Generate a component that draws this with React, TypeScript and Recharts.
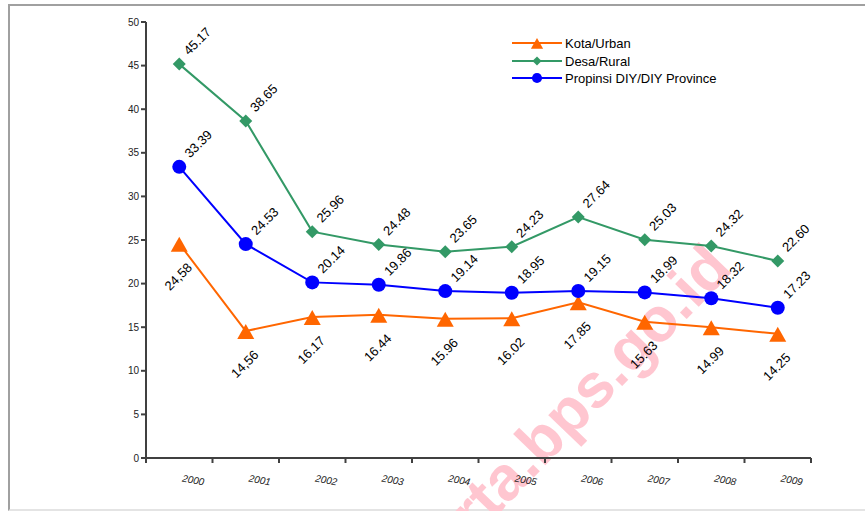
import React from "react";
import { LineChart, Line, XAxis, YAxis, LabelList } from "recharts";

const years = ["2000", "2001", "2002", "2003", "2004", "2005", "2006", "2007", "2008", "2009"];
const kota = [24.58, 14.56, 16.17, 16.44, 15.96, 16.02, 17.85, 15.63, 14.99, 14.25];
const desa = [45.17, 38.65, 25.96, 24.48, 23.65, 24.23, 27.64, 25.03, 24.32, 22.6];
const propinsi = [33.39, 24.53, 20.14, 19.86, 19.14, 18.95, 19.15, 18.99, 18.32, 17.23];
const kotaLabels = ["24,58", "14,56", "16.17", "16.44", "15.96", "16.02", "17.85", "15.63", "14.99", "14.25"];
const desaLabels = ["45.17", "38.65", "25.96", "24.48", "23.65", "24.23", "27.64", "25.03", "24.32", "22.60"];
const propinsiLabels = ["33.39", "24.53", "20.14", "19.86", "19.14", "18.95", "19.15", "18.99", "18.32", "17.23"];
const yTicks = [0, 5, 10, 15, 20, 25, 30, 35, 40, 45, 50];

const seriesNames = ["Kota/Urban", "Desa/Rural", "Propinsi DIY/DIY Province"];
const ORANGE = "#FF6600";
const GREEN = "#339966";
const BLUE = "#0000FF";
const FONT = "'Liberation Sans', Arial, sans-serif";

const data = years.map((y, i) => ({
  year: y,
  kota: kota[i],
  desa: desa[i],
  propinsi: propinsi[i],
  kotaLabel: kotaLabels[i],
  desaLabel: desaLabels[i],
  propinsiLabel: propinsiLabels[i],
}));

const Triangle = ({ cx, cy, s = 1 }: any) => (
  <polygon
    points={`${cx},${cy - 7 * s} ${cx - 8.5 * s},${cy + 8 * s} ${cx + 8.5 * s},${cy + 8 * s}`}
    fill={ORANGE}
  />
);
const Diamond = ({ cx, cy, s = 1 }: any) => (
  <polygon
    points={`${cx},${cy - 6.5 * s} ${cx + 6.5 * s},${cy} ${cx},${cy + 6.5 * s} ${cx - 6.5 * s},${cy}`}
    fill={GREEN}
  />
);
const Circle = ({ cx, cy, s = 1 }: any) => <circle cx={cx} cy={cy} r={7 * s} fill={BLUE} />;

const makeLabel = (dx: number, dy: number) => (props: any) => {
  const { x, y, value, index } = props;
  const cx = x + dx;
  const cy = y + dy;
  return (
    <text
      key={index}
      x={cx}
      y={cy}
      textAnchor="middle"
      dominantBaseline="central"
      transform={`rotate(-45 ${cx} ${cy})`}
      fontSize={13}
      fontFamily={FONT}
      fill="#000"
    >
      {value}
    </text>
  );
};

const XTick = (props: any) => {
  const { x, y, payload, index, width, visibleTicksCount } = props;
  const half = width && visibleTicksCount ? width / visibleTicksCount / 2 : 33.25;
  const top = y - 5;
  return (
    <g>
      {index === 0 && <line x1={x - half} y1={top} x2={x - half} y2={y} stroke="#404040" strokeWidth={2} />}
      <line x1={x + half} y1={top} x2={x + half} y2={y} stroke="#404040" strokeWidth={2} />
      <text
        x={x + 14}
        y={y + 17}
        textAnchor="middle"
        dominantBaseline="central"
        transform={`rotate(10 ${x + 14} ${y + 17})`}
        fontSize={10}
        fontStyle="italic"
        fontFamily={FONT}
        fill="#222"
      >
        {payload.value}
      </text>
    </g>
  );
};

const LegendBox = () => {
  const rows = [
    { name: seriesNames[0], color: ORANGE, M: Triangle, s: 0.72 },
    { name: seriesNames[1], color: GREEN, M: Diamond, s: 0.7 },
    { name: seriesNames[2], color: BLUE, M: Circle, s: 0.72 },
  ];
  const ys = [10, 28, 45];
  return (
    <svg width={250} height={60} style={{ position: "absolute", left: 505, top: 33 }}>
      {rows.map((r, i) => (
        <g key={r.name}>
          <line x1={7} y1={ys[i]} x2={57} y2={ys[i]} stroke={r.color} strokeWidth={2} />
          <r.M cx={32} cy={ys[i]} s={r.s} />
          <text x={60} y={ys[i]} dominantBaseline="central" fontSize={13} fontFamily={FONT} fill="#000">
            {r.name}
          </text>
        </g>
      ))}
    </svg>
  );
};

export default function App() {
  return (
    <div style={{ position: "absolute", left: 0, top: 0, width: 865, height: 511, background: "#fff", overflow: "hidden" }}>
      <div
        style={{
          position: "absolute",
          left: 8,
          top: 4,
          width: 857,
          height: 507,
          boxSizing: "border-box",
          borderTop: "2px solid #a0a0a0",
          borderLeft: "2px solid #a0a0a0",
          borderBottom: "2px solid #e4e4e4",
        }}
      />
      <svg width={865} height={511} style={{ position: "absolute", left: 0, top: 0, pointerEvents: "none" }}>
        <text
          x={734}
          y={270}
          textAnchor="end"
          transform="rotate(-46 734 270)"
          fontSize={62}
          fontWeight="bold"
          fontFamily={FONT}
          fill="#ffc6d0"
        >
          yogyakarta.bps.go.id
        </text>
      </svg>
      <div style={{ position: "absolute", left: 0, top: 0 }}>
        <LineChart width={865} height={511} data={data} margin={{ top: 22, right: 54, left: 86, bottom: 13 }}>
          <XAxis
            dataKey="year"
            scale="band"
            height={40}
            interval={0}
            tickLine={false}
            tickSize={5}
            tickMargin={0}
            axisLine={{ stroke: "#404040", strokeWidth: 2 }}
            tick={<XTick />}
          />
          <YAxis
            type="number"
            domain={[0, 50]}
            ticks={yTicks}
            interval={0}
            width={60}
            tickSize={5}
            tickMargin={2}
            axisLine={{ stroke: "#404040", strokeWidth: 2 }}
            tickLine={{ stroke: "#404040", strokeWidth: 2 }}
            tick={{ fontSize: 10, fill: "#222", fontFamily: FONT }}
          />
          <Line
            dataKey="kota"
            name={seriesNames[0]}
            stroke={ORANGE}
            strokeWidth={2}
            isAnimationActive={false}
            dot={(p: any) => <Triangle key={p.index} cx={p.cx} cy={p.cy} />}
            activeDot={false}
          >
            <LabelList dataKey="kotaLabel" content={makeLabel(-1, 33)} />
          </Line>
          <Line
            dataKey="desa"
            name={seriesNames[1]}
            stroke={GREEN}
            strokeWidth={2}
            isAnimationActive={false}
            dot={(p: any) => <Diamond key={p.index} cx={p.cx} cy={p.cy} />}
            activeDot={false}
          >
            <LabelList dataKey="desaLabel" content={makeLabel(18, -23)} />
          </Line>
          <Line
            dataKey="propinsi"
            name={seriesNames[2]}
            stroke={BLUE}
            strokeWidth={2}
            isAnimationActive={false}
            dot={(p: any) => <Circle key={p.index} cx={p.cx} cy={p.cy} />}
            activeDot={false}
          >
            <LabelList dataKey="propinsiLabel" content={makeLabel(19, -23)} />
          </Line>
        </LineChart>
      </div>
      <LegendBox />
    </div>
  );
}
